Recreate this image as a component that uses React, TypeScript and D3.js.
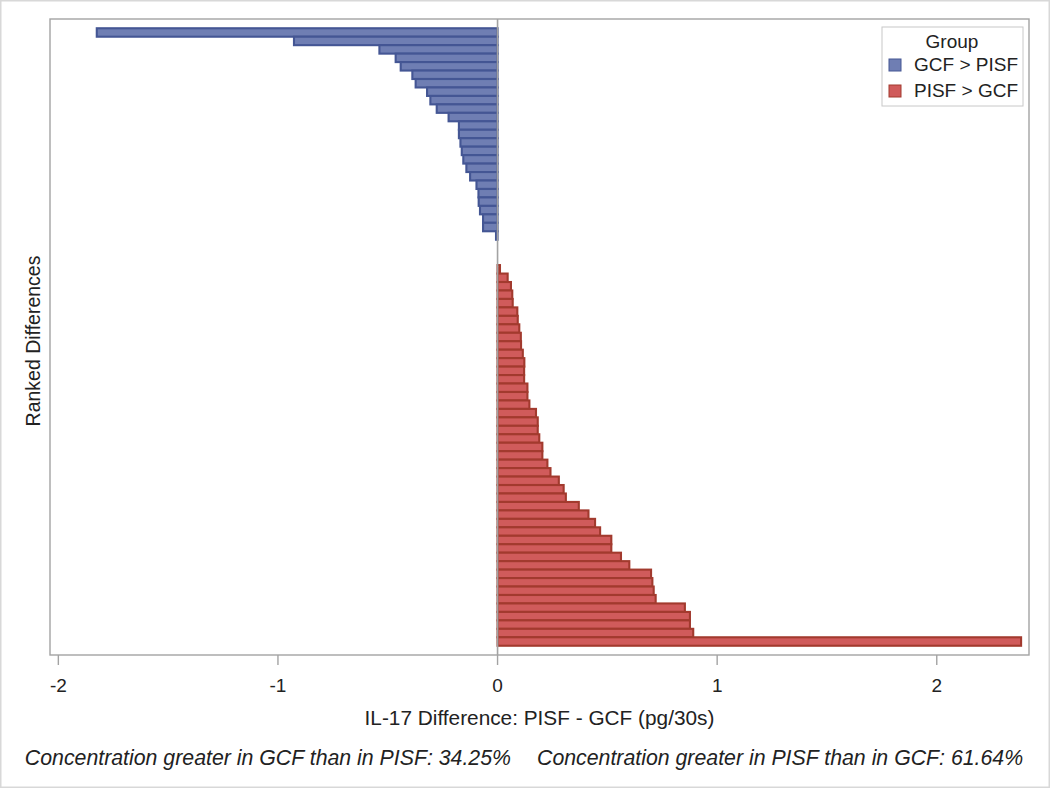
import React from "react";
import * as d3 from "d3";

// Ranked differences (PISF - GCF), pg/30s
const gcfGreater = [
  -1.825, -0.927, -0.538, -0.464, -0.441, -0.388, -0.373, -0.321, -0.306, -0.277,
  -0.223, -0.176, -0.176, -0.169, -0.163, -0.156, -0.142, -0.125, -0.096, -0.087,
  -0.086, -0.080, -0.066, -0.066, -0.007,
];
const tiedValues = [0, 0, 0];
const pisfGreater = [
  0.011, 0.046, 0.061, 0.067, 0.069, 0.090, 0.092, 0.099, 0.106, 0.107,
  0.115, 0.122, 0.121, 0.121, 0.136, 0.136, 0.145, 0.175, 0.183, 0.183,
  0.190, 0.204, 0.204, 0.227, 0.241, 0.279, 0.301, 0.311, 0.370, 0.414,
  0.444, 0.467, 0.518, 0.518, 0.562, 0.600, 0.699, 0.705, 0.711, 0.720,
  0.853, 0.876, 0.876, 0.891, 2.384,
];
const groupNames = ["GCF > PISF", "PISF > GCF"];
const xTicks = [-2, -1, 0, 1, 2];
const footnoteParts = [
  "Concentration greater in GCF than in PISF: 34.25%",
  "Concentration greater in PISF than in GCF: 61.64%",
];

const W = 1050;
const H = 788;
const frame = { left: 50, right: 1029, top: 19, bottom: 655 };
const colors = {
  [groupNames[0]]: { fill: "#6F7EB3", stroke: "#445694" },
  [groupNames[1]]: { fill: "#D05B5B", stroke: "#A23A2E" },
};
const font = "'Liberation Sans', Arial, sans-serif";

export default function App() {
  const rows = [
    ...gcfGreater.map((v) => ({ v, g: groupNames[0] })),
    ...tiedValues.map((v) => ({ v, g: null as string | null })),
    ...pisfGreater.map((v) => ({ v, g: groupNames[1] })),
  ].map((d, i) => ({ ...d, i }));

  const x = d3.scaleLinear().domain([-2.038, 2.42]).range([frame.left, frame.right]);
  const y = d3
    .scaleBand<number>()
    .domain(rows.map((d) => d.i))
    .range([frame.top, frame.bottom])
    .paddingInner(0)
    .paddingOuter(1.094);

  const cx = (frame.left + frame.right) / 2;
  const cy = (frame.top + frame.bottom) / 2;

  return (
    <svg
      width={W}
      height={H}
      style={{ position: "absolute", left: 0, top: 0, background: "#fff" }}
      fontFamily={font}
    >
      <rect x={0.5} y={0.5} width={W - 1} height={H - 1} fill="#fff" stroke="#D8D8D8" strokeWidth={2} />
      <rect
        x={frame.left}
        y={frame.top}
        width={frame.right - frame.left}
        height={frame.bottom - frame.top}
        fill="#fff"
      />
      {/* bars */}
      {rows
        .filter((d) => d.g && d.v !== 0)
        .map((d) => {
          const c = colors[d.g as string];
          const x0 = x(Math.min(0, d.v));
          const x1 = x(Math.max(0, d.v));
          return (
            <rect
              key={d.i}
              x={x0}
              y={y(d.i)}
              width={Math.max(0.5, x1 - x0)}
              height={y.bandwidth()}
              fill={c.fill}
              stroke={c.stroke}
              strokeWidth={2.1}
            />
          );
        })}
      {/* zero reference line */}
      <line x1={x(0)} x2={x(0)} y1={frame.top} y2={frame.bottom} stroke="#A3A3A3" strokeWidth={1.6} />
      {/* frame */}
      <rect
        x={frame.left}
        y={frame.top}
        width={frame.right - frame.left}
        height={frame.bottom - frame.top}
        fill="none"
        stroke="#A3A3A3"
        strokeWidth={1.4}
      />
      {/* x axis ticks */}
      {xTicks.map((t) => (
        <g key={t} transform={`translate(${x(t)},0)`}>
          <line y1={frame.bottom} y2={frame.bottom + 10} stroke="#A3A3A3" strokeWidth={1.4} />
          <text y={frame.bottom + 37} textAnchor="middle" fontSize={19} fill="#222">
            {t}
          </text>
        </g>
      ))}
      <text x={cx} y={725} textAnchor="middle" fontSize={20.8} fill="#222">
        IL-17 Difference: PISF - GCF (pg/30s)
      </text>
      <text
        transform={`translate(40,${cy + 4}) rotate(-90)`}
        textAnchor="middle"
        fontSize={19.5}
        fill="#222"
      >
        Ranked Differences
      </text>
      {/* footnote */}
      <text x={511} y={765} textAnchor="end" fontSize={21.3} fontStyle="italic" fill="#222">
        {footnoteParts[0]}
      </text>
      <text x={537} y={765} textAnchor="start" fontSize={21.3} fontStyle="italic" fill="#222">
        {footnoteParts[1]}
      </text>
      {/* legend */}
      <g>
        <rect x={882} y={27} width={141} height={79} fill="#fff" stroke="#C8C8C8" strokeWidth={1} />
        <text x={952} y={48} textAnchor="middle" fontSize={19} fill="#222">
          Group
        </text>
        {groupNames.map((g, i) => (
          <g key={g} transform={`translate(889,${59 + i * 26})`}>
            <rect x={0} y={0} width={12} height={12} fill={colors[g].fill} stroke={colors[g].stroke} strokeWidth={1} />
            <text x={25} y={12} fontSize={19} fill="#222">
              {g}
            </text>
          </g>
        ))}
      </g>
    </svg>
  );
}
